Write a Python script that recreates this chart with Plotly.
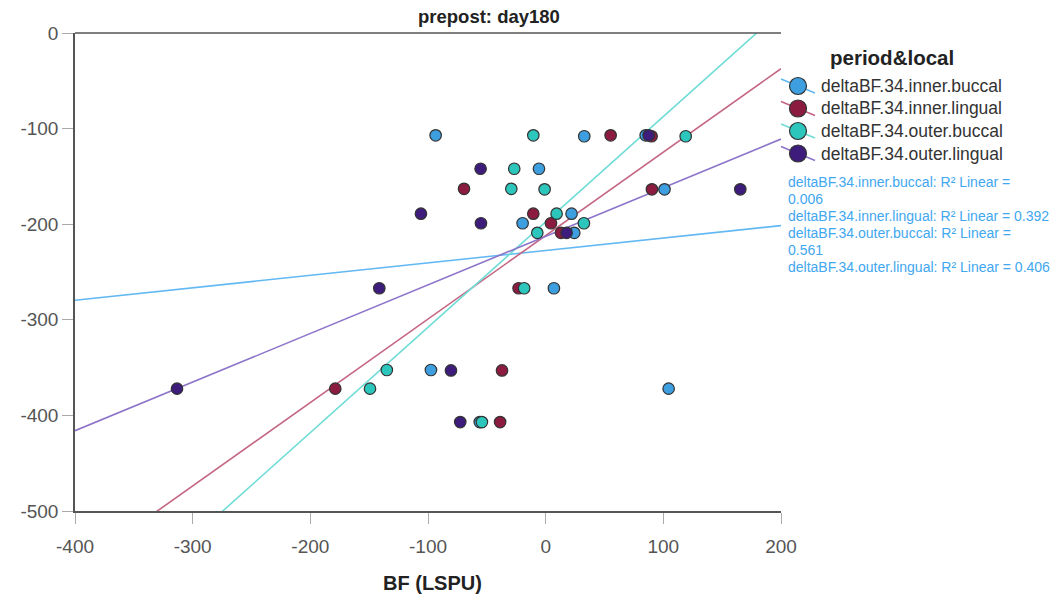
import numpy as np
import plotly.graph_objects as go

# Scatter data per site group: BF change (x) vs outcome (y)
series_names = [
    "deltaBF.34.inner.buccal",
    "deltaBF.34.inner.lingual",
    "deltaBF.34.outer.buccal",
    "deltaBF.34.outer.lingual",
]

inner_buccal_x = [-93.5, 32.8, 85.0, -5.7, 101.0, 22.0, -19.6, 24.3, 7.0, -97.5, 104.5, -56.0]
inner_buccal_y = [-107, -108, -107, -142, -163.5, -189, -199, -209, -267, -352.5, -372, -407]

inner_lingual_x = [55.2, 90.0, -69.4, 90.3, -10.5, 4.5, 13.0, -23.0, -37.1, -178.8, -38.7]
inner_lingual_y = [-107, -108, -163, -163.5, -189, -199, -209, -267, -353, -372, -407]

outer_buccal_x = [-10.5, 119.0, -26.7, -29.2, -0.9, 9.3, 32.5, -7.1, -18.3, -135.0, -149.3, -54.2]
outer_buccal_y = [-107, -108, -142, -163, -163.5, -189, -199, -209, -267, -352.5, -372, -407]

outer_lingual_x = [87.5, -55.3, 165.4, -106.0, -55.0, 17.8, -141.4, -80.5, -313.3, -72.6]
outer_lingual_y = [-107, -142, -163.5, -189, -199, -209, -267, -353, -372, -407]

# Linear fit per group (intercept, slope) and R-squared
fit_intercepts = [-227.5, -211.9, -197.6, -212.6]
fit_slopes = [0.130, 0.873, 1.102, 0.5085]
r_squared = ["0.006", "0.392", "0.561", "0.406"]
r2_wrapped = [True, False, True, False]

x_ticks = [-400, -300, -200, -100, 0, 100, 200]
x_tick_labels = ["-400", "-300", "-200", "-100", "0", "100", "200"]
y_ticks = [-500, -400, -300, -200, -100, 0]
y_tick_labels = ["-500", "-400", "-300", "-200", "-100", "0"]

marker_colors = ["#3d9fe0", "#8c1b40", "#2cc6bd", "#3e1c7c"]
line_colors = ["#62b8f2", "#c46581", "#6fdcd6", "#8d74c9"]

xs = [inner_buccal_x, inner_lingual_x, outer_buccal_x, outer_lingual_x]
ys = [inner_buccal_y, inner_lingual_y, outer_buccal_y, outer_lingual_y]

# plot area in pixels, used to place the side legend and notes
PLOT_L, PLOT_R, PLOT_T, PLOT_B = 75, 781, 33, 511


def px_x(px):
    return (px - PLOT_L) / (PLOT_R - PLOT_L)


def px_y(py):
    return (PLOT_B - py) / (PLOT_B - PLOT_T)


FONT = "Liberation Sans, Arial, sans-serif"

fig = go.Figure()

x_line = np.array([x_ticks[0], x_ticks[-1]], dtype=float)
for i, name in enumerate(series_names):
    fig.add_trace(go.Scatter(
        x=x_line, y=fit_intercepts[i] + fit_slopes[i] * x_line,
        mode="lines", line=dict(color=line_colors[i], width=1.6),
        name=name + " fit", showlegend=False, hoverinfo="skip",
    ))

for i, name in enumerate(series_names):
    fig.add_trace(go.Scatter(
        x=xs[i], y=ys[i], mode="markers", name=name, showlegend=False,
        marker=dict(size=11.5, color=marker_colors[i],
                    line=dict(color="#333333", width=1.2)),
    ))

axis_font = dict(family=FONT, size=19, color="#555555")

fig.update_xaxes(
    range=[x_ticks[0], x_ticks[-1]], tickvals=x_ticks, ticktext=x_tick_labels,
    showgrid=False, zeroline=False,
    showline=True, linecolor="#555555", linewidth=1.5,
    ticks="outside", ticklen=11, tickcolor="#aaaaaa", tickwidth=1.2,
    tickfont=axis_font, ticklabelstandoff=6,
)
fig.update_yaxes(
    range=[y_ticks[0], y_ticks[-1]], tickvals=y_ticks, ticktext=y_tick_labels,
    showgrid=False, zeroline=False,
    showline=True, linecolor="#555555", linewidth=1.5,
    ticks="outside", ticklen=11, tickcolor="#aaaaaa", tickwidth=1.2,
    tickfont=axis_font,
)

shapes = [dict(type="line", xref="paper", yref="paper", x0=0, x1=1, y0=1, y1=1,
               line=dict(color="#555555", width=1.5))]

annotations = [
    dict(text="<b>prepost: day180</b>", xref="paper", yref="paper",
         x=px_x(489), y=px_y(17), xanchor="center", yanchor="middle",
         showarrow=False, font=dict(family=FONT, size=18.5, color="#222222")),
    dict(text="<b>BF (LSPU)</b>", xref="paper", yref="paper",
         x=px_x(432), y=px_y(583), xanchor="center", yanchor="middle",
         showarrow=False, font=dict(family=FONT, size=20, color="#222222")),
    dict(text="<b>period&local</b>", xref="paper", yref="paper",
         x=px_x(892), y=px_y(57), xanchor="center", yanchor="middle",
         showarrow=False, font=dict(family=FONT, size=20.5, color="#222222")),
]

# side legend: marker with a short slanted stroke, then the group name
legend_rows = [86, 108.5, 131, 153.5]
for i, name in enumerate(series_names):
    cx, cy = px_x(798), px_y(legend_rows[i])
    shapes.append(dict(type="line", xref="paper", yref="paper",
                       xsizemode="pixel", ysizemode="pixel",
                       xanchor=cx, yanchor=cy, x0=-17, x1=17, y0=7, y1=-7,
                       line=dict(color=line_colors[i], width=1.6)))
    shapes.append(dict(type="circle", xref="paper", yref="paper",
                       xsizemode="pixel", ysizemode="pixel",
                       xanchor=cx, yanchor=cy, x0=-8.5, x1=8.5, y0=-8.5, y1=8.5,
                       fillcolor=marker_colors[i],
                       line=dict(color="#333333", width=1.2)))
    annotations.append(dict(text=name, xref="paper", yref="paper",
                            x=px_x(819), y=cy, xanchor="left", yanchor="middle",
                            showarrow=False,
                            font=dict(family=FONT, size=17.5, color="#333333")))

# R-squared notes under the legend
note_lines = []
for name, r2, wrap in zip(series_names, r_squared, r2_wrapped):
    if wrap:
        note_lines += [f"{name}: R² Linear =", r2]
    else:
        note_lines.append(f"{name}: R² Linear = {r2}")
note_rows = [182, 199, 216, 233, 250, 267]
for text, row in zip(note_lines, note_rows):
    annotations.append(dict(text=text, xref="paper", yref="paper",
                            x=px_x(786), y=px_y(row), xanchor="left",
                            yanchor="middle", showarrow=False,
                            font=dict(family=FONT, size=14, color="#41a7ef")))

fig.update_layout(
    width=1053, height=608,
    margin=dict(l=PLOT_L, r=1053 - PLOT_R, t=PLOT_T, b=608 - PLOT_B),
    paper_bgcolor="white", plot_bgcolor="white",
    font=dict(family=FONT),
    showlegend=False,
    shapes=shapes,
    annotations=annotations,
)

fig.write_html("out.html")
